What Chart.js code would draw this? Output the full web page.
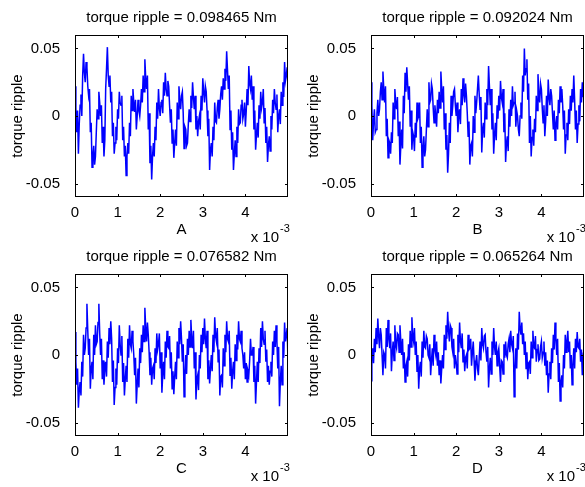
<!DOCTYPE html>
<html>
<head>
<meta charset="utf-8">
<script src="https://cdn.jsdelivr.net/npm/chart.js@4.4.1/dist/chart.umd.min.js"></script>
<style>
  html, body { margin: 0; padding: 0; background: #fff; overflow: hidden; }
  #wrap { position: relative; width: 585px; height: 487px; }
  canvas { position: absolute; }
</style>
</head>
<body>
<div id="wrap">
  <canvas id="plotA" width="292" height="246" style="left:0;top:0"></canvas>
  <canvas id="plotB" width="289" height="246" style="left:296px;top:0"></canvas>
  <canvas id="plotC" width="292" height="246" style="left:0;top:239px"></canvas>
  <canvas id="plotD" width="289" height="246" style="left:296px;top:239px"></canvas>
</div>
<script>
const timeStep = 0.02e-3;

const torqueA = [
  0.022, 0.006, -0.012, 0.004, -0.028, -0.006, 0.008, 0.016, 0.0, 0.03,
  0.046, 0.032, 0.025, 0.04, 0.036, 0.022, 0.015, 0.02, -0.012, -0.005,
  -0.038, -0.03, -0.022, -0.036, -0.03, -0.012, 0.005, -0.002, 0.018, 0.01,
  0.0, 0.008, -0.02, -0.008, -0.03, -0.018, 0.02, 0.035, 0.051, 0.03,
  0.022, 0.03, 0.01, 0.018, -0.015, -0.005, -0.028, -0.02, -0.008, -0.018,
  0.005, -0.002, 0.018, 0.01, 0.008, 0.015, -0.018, -0.008, -0.03, -0.022,
  -0.044, -0.03, -0.02, -0.028, -0.005, -0.015, 0.015, 0.004, 0.02, 0.01,
  0.003, 0.012, -0.01, 0.0, 0.012, 0.004, 0.0, 0.008, 0.02, 0.01,
  0.03, 0.018, 0.042, 0.028, 0.02, 0.03, -0.01, 0.002, -0.035, -0.022,
  -0.047, -0.03, -0.02, -0.03, -0.008, -0.018, 0.01, -0.002, 0.02, 0.006,
  0.0, 0.01, 0.012, 0.002, 0.025, 0.015, 0.032, 0.02, 0.015, 0.026,
  0.022, 0.008, -0.005, 0.005, -0.02, -0.01, -0.031, -0.02, -0.01, -0.022,
  0.01, -0.002, 0.022, 0.012, 0.005, 0.015, 0.018, 0.002, -0.024, -0.008,
  -0.01, -0.022, -0.02, -0.006, 0.005, -0.004, 0.015, 0.006, 0.025, 0.014,
  0.005, 0.015, -0.01, 0.0, -0.015, -0.004, 0.0, -0.01, 0.015, 0.004,
  0.028, 0.018, 0.01, 0.022, 0.018, 0.004, -0.015, -0.002, -0.04, -0.025,
  -0.02, -0.03, -0.008, -0.018, 0.01, -0.004, -0.005, 0.006, 0.012, -0.002,
  0.005, 0.016, 0.022, 0.012, 0.028, 0.02, 0.035, 0.026, 0.048, 0.034,
  0.02, 0.03, -0.01, 0.004, -0.025, -0.012, -0.04, -0.028, -0.018, -0.03,
  -0.008, -0.02, 0.005, -0.006, -0.005, 0.008, 0.012, -0.002, 0.002, 0.01,
  -0.008, 0.004, 0.02, 0.008, 0.037, 0.024, 0.02, 0.03, 0.012, 0.022,
  -0.01, 0.004, -0.025, -0.014, -0.005, -0.016, 0.008, -0.002, 0.018, 0.006,
  0.01, 0.02, -0.005, 0.006, -0.02, -0.008, -0.034, -0.022, -0.015, -0.026,
  0.0, -0.01, 0.012, 0.002, 0.02, 0.01, 0.005, 0.016, -0.012, 0.0,
  0.005, -0.006, 0.018, 0.008, 0.025, 0.014, 0.04, 0.026, 0.03, 0.036,
  0.022
];

const torqueB = [
  0.025, 0.008, -0.018, -0.004, 0.005, -0.012, -0.01, 0.002, 0.012, 0.0,
  0.005, 0.018, 0.025, 0.012, 0.033, 0.02, 0.01, 0.022, -0.015, -0.002,
  -0.031, -0.018, -0.02, -0.028, -0.012, -0.02, 0.01, -0.002, 0.02, 0.01,
  0.005, 0.014, -0.015, -0.004, -0.036, -0.022, -0.01, -0.024, 0.015, 0.002,
  0.032, 0.018, 0.036, 0.024, 0.012, 0.022, -0.008, 0.004, -0.025, -0.012,
  -0.015, -0.026, -0.005, -0.016, 0.01, -0.002, 0.0, 0.01, -0.02, -0.008,
  -0.038, -0.024, -0.015, -0.03, -0.025, -0.01, 0.005, -0.008, 0.025, 0.01,
  0.012, 0.024, 0.02, 0.006, -0.005, 0.008, 0.0, -0.008, 0.012, 0.002,
  0.018, 0.006, 0.033, 0.02, 0.01, 0.022, -0.01, 0.002, -0.025, -0.014,
  -0.042, -0.028, -0.005, -0.02, 0.015, 0.0, 0.008, 0.018, 0.02, 0.008,
  0.0, 0.01, -0.012, 0.0, 0.005, -0.006, 0.02, 0.008, 0.028, 0.016,
  0.01, 0.024, 0.015, 0.002, -0.015, -0.004, -0.036, -0.022, -0.02, -0.03,
  0.0, -0.012, 0.015, 0.002, 0.01, 0.02, 0.03, 0.016, 0.005, 0.014,
  -0.027, -0.01, -0.005, -0.016, 0.01, -0.002, 0.02, 0.008, 0.037, 0.022,
  0.008, 0.02, -0.01, 0.002, -0.028, -0.014, -0.005, -0.018, 0.008, -0.002,
  0.015, 0.004, 0.026, 0.014, 0.01, 0.02, -0.012, 0.002, -0.034, -0.02,
  -0.015, -0.026, 0.005, -0.008, 0.012, 0.0, 0.022, 0.008, 0.01, 0.018,
  -0.008, 0.004, 0.0, -0.01, -0.015, 0.0, 0.01, -0.002, 0.03, 0.018,
  0.05, 0.03, 0.035, 0.042, 0.012, 0.024, -0.02, 0.0, -0.03, -0.016,
  -0.01, -0.022, -0.002, -0.012, 0.015, 0.004, 0.031, 0.016, 0.01, 0.024,
  0.02, 0.006, -0.005, 0.008, -0.015, -0.004, 0.015, 0.0, 0.027, 0.014,
  0.008, 0.02, 0.015, 0.002, -0.01, 0.004, -0.018, -0.006, 0.0, -0.01,
  0.012, 0.002, 0.022, 0.01, 0.02, 0.008, -0.01, 0.004, -0.028, -0.014,
  -0.005, -0.018, 0.005, -0.006, 0.015, 0.004, 0.02, 0.01, 0.03, 0.012,
  -0.01, 0.004, -0.02, -0.006, 0.008, -0.004, 0.02, 0.01, 0.025, 0.014,
  0.033
];

const torqueC = [
  0.017, -0.005, -0.022, -0.01, -0.039, -0.026, -0.02, -0.03, -0.005, -0.016,
  0.015, 0.0, 0.005, 0.02, 0.038, 0.018, 0.0, 0.012, -0.025, -0.01,
  -0.005, -0.018, 0.015, 0.0, 0.022, 0.008, 0.01, 0.024, 0.038, 0.016,
  0.0, 0.012, -0.018, -0.004, -0.022, -0.01, -0.005, -0.016, 0.01, -0.002,
  0.02, 0.008, 0.025, 0.012, -0.02, -0.004, -0.037, -0.024, -0.01, -0.022,
  0.005, -0.006, 0.022, 0.008, 0.0, 0.014, -0.02, -0.006, -0.03, -0.018,
  -0.008, -0.02, 0.012, -0.002, 0.022, 0.008, 0.005, 0.018, 0.01, 0.0,
  -0.015, -0.002, -0.036, -0.022, -0.01, -0.024, 0.005, -0.006, 0.015, 0.002,
  0.022, 0.01, 0.035, 0.02, 0.01, 0.024, 0.015, 0.002, -0.015, -0.002,
  -0.022, -0.01, -0.008, -0.018, 0.005, -0.006, 0.016, 0.004, 0.008, 0.016,
  -0.01, 0.002, -0.028, -0.014, -0.005, -0.018, 0.01, -0.002, 0.018, 0.006,
  0.005, 0.014, -0.01, 0.002, -0.025, -0.012, -0.029, -0.016, -0.005, -0.018,
  0.01, -0.002, 0.02, 0.008, 0.025, 0.012, -0.005, 0.008, -0.031, -0.016,
  0.0, -0.014, 0.012, 0.0, 0.018, 0.006, 0.026, 0.012, 0.005, 0.018,
  -0.01, 0.002, -0.033, -0.018, -0.015, -0.026, 0.0, -0.01, 0.015, 0.002,
  0.02, 0.008, 0.027, 0.012, 0.005, 0.018, -0.018, -0.004, -0.021, -0.01,
  0.0, -0.012, 0.015, 0.002, 0.028, 0.014, 0.01, 0.02, -0.005, 0.004,
  -0.03, -0.016, -0.015, -0.024, 0.005, -0.008, 0.015, 0.002, 0.025, 0.012,
  0.01, 0.018, -0.015, -0.002, -0.025, -0.012, -0.005, -0.018, 0.008, -0.004,
  0.015, 0.004, 0.025, 0.012, 0.01, 0.018, 0.005, 0.0, -0.01, 0.002,
  -0.018, -0.006, -0.02, -0.012, -0.015, -0.004, 0.012, 0.0, 0.0, 0.006,
  -0.02, -0.008, -0.036, -0.02, -0.005, -0.02, 0.005, -0.006, 0.02, 0.006,
  0.025, 0.012, 0.008, 0.018, -0.005, 0.004, -0.02, -0.008, -0.022, -0.012,
  -0.005, -0.016, 0.01, 0.0, 0.018, 0.006, 0.022, 0.01, -0.01, 0.006,
  -0.038, -0.02, -0.008, -0.022, 0.01, -0.002, 0.024, 0.01, 0.015, 0.02,
  -0.005
];

const torqueD = [
  -0.019, -0.004, 0.005, -0.006, 0.012, 0.002, 0.02, 0.008, 0.027, 0.014,
  0.005, 0.02, 0.015, 0.0, -0.015, 0.002, 0.0, -0.01, 0.02, 0.006,
  0.026, 0.012, 0.005, 0.016, -0.012, 0.002, 0.01, -0.004, 0.022, 0.008,
  0.005, 0.016, 0.015, 0.002, 0.022, 0.01, 0.0, 0.012, -0.01, 0.002,
  -0.02, -0.008, -0.005, -0.016, 0.008, -0.004, 0.018, 0.006, 0.028, 0.014,
  0.01, 0.02, 0.0, 0.01, -0.012, 0.0, -0.025, -0.01, -0.005, -0.016,
  0.01, -0.002, 0.018, 0.006, 0.005, 0.014, 0.012, 0.0, -0.002, 0.008,
  -0.015, -0.004, 0.005, -0.008, 0.015, 0.004, 0.0, 0.01, -0.008, 0.002,
  -0.015, -0.004, -0.021, -0.01, 0.0, -0.01, 0.015, 0.004, 0.022, 0.012,
  0.032, 0.018, 0.01, 0.022, 0.02, 0.006, 0.002, 0.012, -0.01, 0.0,
  -0.005, -0.014, 0.015, 0.002, 0.024, 0.01, 0.005, 0.016, -0.005, 0.004,
  -0.012, -0.002, 0.0, -0.01, 0.015, 0.004, 0.005, 0.012, -0.008, 0.002,
  0.01, -0.004, -0.019, -0.006, 0.0, -0.01, -0.015, -0.002, 0.01, -0.004,
  0.02, 0.008, 0.005, 0.014, 0.015, 0.002, -0.005, 0.006, -0.024, -0.01,
  -0.002, -0.014, 0.01, 0.0, 0.02, 0.006, 0.0, 0.01, -0.008, 0.002,
  0.005, -0.008, -0.02, -0.004, -0.005, -0.014, 0.008, -0.002, 0.01, 0.0,
  -0.002, 0.008, 0.012, 0.002, 0.018, 0.008, 0.005, 0.014, -0.031, -0.012,
  0.005, -0.01, 0.016, 0.004, 0.032, 0.02, 0.015, 0.024, 0.008, 0.016,
  0.0, 0.01, -0.01, 0.002, -0.018, -0.006, -0.005, -0.014, 0.01, -0.002,
  0.018, 0.006, 0.005, 0.014, -0.005, 0.004, 0.008, -0.004, -0.003, 0.006,
  0.01, -0.002, 0.002, 0.01, -0.008, 0.002, -0.015, -0.004, -0.028, -0.014,
  -0.005, -0.018, 0.005, -0.006, 0.015, 0.004, 0.024, 0.012, 0.0, 0.012,
  -0.02, -0.006, -0.034, -0.02, -0.015, -0.024, 0.0, -0.01, 0.015, 0.002,
  0.01, 0.018, 0.002, 0.01, -0.01, 0.0, -0.022, -0.008, 0.005, -0.01,
  0.012, 0.002, 0.017, 0.006, 0.005, 0.012, -0.005, 0.004, -0.015, -0.002,
  -0.005
];

const panelNames = ['A', 'B', 'C', 'D'];
const rippleTitles = [
  'torque ripple = 0.098465 Nm',
  'torque ripple = 0.092024 Nm',
  'torque ripple = 0.076582 Nm',
  'torque ripple = 0.065264 Nm'
];
const xTickValues = [0, 0.001, 0.002, 0.003, 0.004];
const xTickLabels = ['0', '1', '2', '3', '4'];
const yTickValues = [-0.05, 0, 0.05];
const yTickLabels = ['-0.05', '0', '0.05'];

const FONT = '"Liberation Sans", Arial, Helvetica, sans-serif';

// matlab style box, inward ticks and the labels around each axes
const matlabAxes = {
  id: 'matlabAxes',
  afterDraw(chart, args, opts) {
    const ctx = chart.ctx;
    const a = chart.chartArea;
    const xs = chart.scales.x, ys = chart.scales.y;
    ctx.save();
    ctx.strokeStyle = '#000';
    ctx.lineWidth = 1;
    ctx.strokeRect(a.left + 0.5, a.top + 0.5, a.right - a.left - 1, a.bottom - a.top - 1);
    ctx.beginPath();
    xTickValues.forEach(v => {
      const px = Math.round(xs.getPixelForValue(v)) + 0.5;
      ctx.moveTo(px, a.bottom); ctx.lineTo(px, a.bottom - 3);
      ctx.moveTo(px, a.top); ctx.lineTo(px, a.top + 3);
    });
    yTickValues.forEach(v => {
      const py = Math.round(ys.getPixelForValue(v)) + 0.5;
      ctx.moveTo(a.left, py); ctx.lineTo(a.left + 3, py);
      ctx.moveTo(a.right, py); ctx.lineTo(a.right - 3, py);
    });
    ctx.stroke();

    const cx = (a.left + a.right) / 2;
    ctx.fillStyle = '#000';
    ctx.font = '15px ' + FONT;
    ctx.textAlign = 'center';
    ctx.textBaseline = 'middle';
    ctx.fillText(opts.title, cx, a.top - 17);
    ctx.fillText(opts.xlabel, cx, a.bottom + 33);

    ctx.save();
    ctx.translate(a.left - 57, (a.top + a.bottom) / 2);
    ctx.rotate(-Math.PI / 2);
    ctx.fillText('torque ripple', 0, 0);
    ctx.restore();

    ctx.textAlign = 'right';
    ctx.fillText('x 10', a.right - 9, a.bottom + 41);
    ctx.font = '11px ' + FONT;
    ctx.textAlign = 'left';
    ctx.fillText('-3', a.right - 8, a.bottom + 32);
    ctx.restore();
  }
};

function makePanel(canvasId, values, title, xlabel, rightPad) {
  const points = values.map((v, i) => ({ x: i * timeStep, y: v }));
  new Chart(document.getElementById(canvasId), {
    type: 'line',
    data: {
      datasets: [{
        data: points,
        borderColor: '#0000ff',
        borderWidth: 1.5,
        pointRadius: 0,
        tension: 0,
        fill: false
      }]
    },
    plugins: [matlabAxes],
    options: {
      responsive: false,
      animation: false,
      devicePixelRatio: 1,
      layout: { padding: { top: 35, right: rightPad, left: 0, bottom: 0 } },
      plugins: {
        legend: { display: false },
        tooltip: { enabled: false },
        matlabAxes: { title: title, xlabel: xlabel }
      },
      scales: {
        x: {
          type: 'linear',
          min: 0,
          max: 0.005,
          grid: { display: false },
          border: { display: false },
          afterBuildTicks: s => { s.ticks = xTickValues.map(v => ({ value: v })); },
          afterFit: s => { s.height = 49; },
          ticks: {
            padding: -1,
            color: '#000',
            font: { family: FONT, size: 15 },
            maxRotation: 0,
            callback: (v, i) => xTickLabels[i]
          }
        },
        y: {
          min: -0.06,
          max: 0.06,
          grid: { display: false },
          border: { display: false },
          afterBuildTicks: s => { s.ticks = yTickValues.map(v => ({ value: v })); },
          afterFit: s => { s.width = 75; },
          ticks: {
            padding: 7,
            color: '#000',
            font: { family: FONT, size: 15 },
            callback: (v, i) => yTickLabels[i]
          }
        }
      }
    }
  });
}

makePanel('plotA', torqueA, rippleTitles[0], panelNames[0], 4);
makePanel('plotB', torqueB, rippleTitles[1], panelNames[1], 1);
makePanel('plotC', torqueC, rippleTitles[2], panelNames[2], 4);
makePanel('plotD', torqueD, rippleTitles[3], panelNames[3], 1);
</script>
</body>
</html>
